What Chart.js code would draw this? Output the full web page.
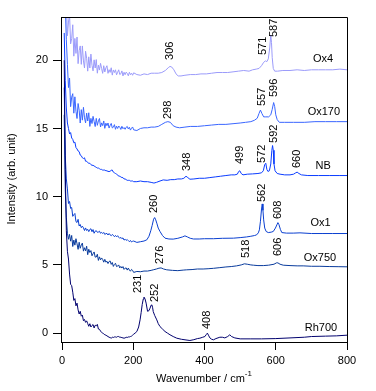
<!DOCTYPE html>
<html>
<head>
<meta charset="utf-8">
<script src="https://cdn.jsdelivr.net/npm/chart.js@4.4.1/dist/chart.umd.min.js"></script>
<style>
  html, body { margin: 0; padding: 0; background: #fff; }
  canvas { display: block; }
</style>
</head>
<body>
<canvas id="chart" width="376" height="391"></canvas>
<script>
// shared wavenumber grid for the noisy low-frequency part of every spectrum
const lowWn = [6, 9, 12, 15, 18, 21, 24, 27, 30, 33, 36, 39, 42, 45, 48, 51, 54, 57, 60, 63,
  66, 69, 72, 75, 78, 81, 84, 87, 90, 93, 96, 99, 102, 105, 108, 111, 114, 117, 120, 123,
  126, 129, 132, 135, 138, 141, 144, 147, 150, 153, 156, 159, 162, 165, 168, 171, 174, 177, 180, 183,
  186, 189, 192, 195, 198, 201];
const xTicks = [0, 200, 400, 600, 800];

// Ox4
const ox4Low = [27, 25, 24.5, 21.8, 22.8, 23.4, 21.2, 21.6, 22.6, 20.3, 21.6, 20.5, 21.7, 19.75, 20.7, 21.05, 19.7, 21.05, 19.95, 19.43,
  20.66, 20.15, 19.2, 20.25, 19.43, 20.45, 19.63, 19.22, 20.03, 19.43, 20.05, 19.05, 19.64, 19.28, 19.77, 19.4, 19.04, 19.6, 19.14, 19.44,
  19.6, 19.04, 19.31, 19.11, 19.45, 18.91, 19.29, 19.1, 19.3, 18.93, 19.12, 19.3, 18.95, 19.01, 19.22, 18.85, 19.12, 18.94, 19.13, 19.04,
  18.86, 19.12, 18.94, 19.05, 18.9, 19.08];
const ox4Wn = [210, 220, 230, 240, 250, 260, 270, 280, 290, 298, 303, 308, 314, 320, 326, 334, 345, 360, 375, 390,
  405, 420, 435, 450, 465, 480, 495, 510, 525, 535, 545, 553, 560, 566, 571, 575, 579, 583, 586, 588,
  590, 593, 597, 605, 620, 640, 660, 680, 700, 720, 740, 760, 780, 800];
const ox4Int = [18.95, 18.9, 19.0, 18.95, 19.05, 19.05, 19.05, 19.1, 19.25, 19.45, 19.55, 19.5, 19.3, 19.0, 18.85, 18.85, 18.9, 18.95, 18.95, 19.0,
  19.0, 19.05, 19.1, 19.1, 19.1, 19.15, 19.2, 19.25, 19.2, 19.3, 19.35, 19.4, 19.6, 19.85, 19.95, 19.9, 20.1, 20.9, 21.85, 21.3,
  20.2, 19.4, 19.2, 19.2, 19.25, 19.25, 19.3, 19.25, 19.3, 19.3, 19.3, 19.3, 19.35, 19.3];

// Ox170
const ox170Low = [26, 24, 21.5, 19.7, 18.0, 18.7, 16.6, 17.3, 17.55, 16.12, 17.32, 16.26, 15.73, 16.83, 16.34, 15.4, 16.38, 15.61, 16.55, 15.78,
  15.41, 16.13, 15.55, 16.15, 15.15, 15.74, 15.36, 15.89, 15.52, 15.14, 15.74, 15.23, 15.56, 15.73, 15.11, 15.41, 15.21, 15.55, 15.01, 15.39,
  15.2, 15.4, 15.03, 15.22, 15.37, 15.04, 15.09, 15.28, 14.94, 15.17, 15.0, 15.18, 15.09, 14.93, 15.16, 14.98, 15.07, 14.94, 15.09, 15.15,
  14.96, 15.09, 14.88, 15.02, 15.11, 14.9];
const ox170Wn = [210, 220, 230, 240, 250, 260, 270, 280, 290, 297, 304, 312, 320, 330, 345, 360, 380, 400, 420, 440,
  460, 480, 500, 515, 530, 540, 548, 553, 557, 561, 566, 572, 580, 586, 590, 594, 597, 600, 604, 610,
  625, 650, 680, 710, 740, 770, 800];
const ox170Int = [14.85, 15.0, 15.05, 15.05, 15.1, 15.1, 15.15, 15.3, 15.45, 15.5, 15.45, 15.2, 15.1, 15.05, 15.1, 15.15, 15.15, 15.2, 15.25, 15.3,
  15.3, 15.35, 15.4, 15.45, 15.5, 15.6, 15.75, 16.1, 16.35, 16.1, 15.85, 15.85, 15.85, 16.0, 16.4, 16.9, 16.6, 16.0, 15.65, 15.45,
  15.45, 15.45, 15.45, 15.5, 15.5, 15.5, 15.5];

// NB
const nbLow = [22, 18.5, 16.5, 15.4, 15.0, 14.6, 14.7, 14.3, 14.2, 13.95, 14.0, 13.6, 13.5, 13.35, 13.3, 13.05, 13.0, 12.85, 12.8, 12.85,
  12.6, 12.6, 12.5, 12.45, 12.45, 12.35, 12.3, 12.3, 12.25, 12.2, 12.15, 12.1, 12.1, 12.05, 12.0, 12.0, 11.95, 11.95, 11.95, 11.9,
  11.9, 11.85, 11.85, 11.85, 11.95, 11.95, 11.8, 11.75, 11.7, 11.65, 11.6, 11.5, 11.5, 11.45, 11.4, 11.4, 11.3, 11.3, 11.25, 11.2,
  11.2, 11.2, 11.15, 11.15, 11.15, 11.1];
const nbWn = [210, 220, 230, 240, 250, 258, 265, 275, 284, 295, 305, 315, 325, 335, 342, 348, 353, 359, 370, 385,
  400, 415, 430, 445, 460, 475, 485, 492, 496, 499, 503, 508, 520, 535, 550, 560, 565, 569, 572, 575,
  578, 582, 586, 589, 591, 593, 595, 598, 604, 612, 625, 640, 650, 656, 660, 665, 672, 690, 720, 750,
  780, 800];
const nbInt = [11.1, 11.15, 11.1, 11.1, 11.05, 11.0, 11.05, 11.15, 11.23, 11.2, 11.25, 11.25, 11.3, 11.3, 11.35, 11.5, 11.4, 11.28, 11.3, 11.35,
  11.35, 11.4, 11.45, 11.5, 11.55, 11.6, 11.6, 11.65, 11.85, 11.9, 11.7, 11.6, 11.65, 11.67, 11.7, 11.75, 11.9, 12.35, 12.45, 12.0,
  11.85, 11.9, 12.4, 13.4, 13.75, 13.4, 12.4, 11.9, 11.7, 11.65, 11.6, 11.6, 11.65, 11.75, 11.8, 11.7, 11.6, 11.55, 11.55, 11.55,
  11.55, 11.55];

// Ox1
const ox1Low = [18, 13, 11.3, 10.57, 9.5, 9.65, 9.14, 9.21, 8.56, 8.68, 8.77, 8.17, 8.11, 8.34, 7.85, 7.96, 7.73, 7.84, 7.72, 7.52,
  7.71, 7.52, 7.61, 7.44, 7.6, 7.65, 7.43, 7.59, 7.32, 7.47, 7.51, 7.39, 7.41, 7.47, 7.32, 7.39, 7.3, 7.38, 7.23, 7.29,
  7.31, 7.19, 7.3, 7.2, 7.14, 7.23, 7.17, 7.07, 7.16, 7.06, 7.14, 7.03, 6.95, 7.02, 6.92, 6.98, 6.82, 6.88, 6.8, 6.86,
  6.78, 6.7, 6.79, 6.68, 6.73, 6.75];
const ox1Wn = [210, 220, 230, 238, 244, 249, 253, 257, 260, 263, 266, 270, 275, 282, 289, 300, 312, 325, 338, 345,
  352, 360, 369, 385, 400, 425, 450, 481, 500, 518, 530, 540, 546, 551, 554, 557, 560, 562, 564, 566,
  569, 573, 579, 587, 593, 599, 603, 606, 609, 613, 617, 630, 649, 668, 700, 730, 760, 800];
const ox1Int = [6.65, 6.7, 6.75, 6.84, 7.1, 7.5, 7.9, 8.35, 8.47, 8.3, 8.06, 7.7, 7.45, 7.15, 6.96, 6.9, 6.89, 6.95, 7.05, 7.13,
  7.05, 6.95, 6.9, 6.9, 6.92, 6.92, 6.95, 6.96, 7.0, 7.05, 7.1, 7.15, 7.2, 7.35, 7.57, 8.2, 9.1, 9.47, 9.0, 8.3,
  7.7, 7.45, 7.37, 7.4, 7.45, 7.7, 7.93, 8.1, 7.95, 7.6, 7.37, 7.33, 7.33, 7.35, 7.3, 7.3, 7.3, 7.3];

// Ox750
const ox750Low = [16, 10.5, 8.5, 7.32, 6.88, 7.24, 6.74, 7.16, 6.35, 6.82, 6.45, 6.92, 6.55, 6.14, 6.66, 6.22, 6.47, 6.6, 6.01, 6.26,
  6.03, 6.37, 5.75, 6.15, 5.91, 6.05, 5.67, 5.82, 5.95, 5.57, 5.58, 5.78, 5.33, 5.59, 5.37, 5.51, 5.4, 5.2, 5.41, 5.2,
  5.27, 5.1, 5.25, 5.29, 5.04, 5.18, 4.89, 5.04, 5.12, 4.88, 4.91, 5.0, 4.78, 4.89, 4.77, 4.88, 4.67, 4.76, 4.78, 4.62,
  4.77, 4.62, 4.54, 4.67, 4.6, 4.45];
const ox750Wn = [210, 220, 230, 240, 250, 256, 265, 272, 278, 285, 294, 310, 325, 340, 350, 365, 380, 396, 410, 425,
  443, 460, 475, 490, 503, 512, 520, 530, 537, 550, 565, 580, 595, 602, 606, 612, 621, 640, 660, 677,
  700, 724, 750, 775, 800];
const ox750Int = [4.52, 4.5, 4.55, 4.55, 4.6, 4.64, 4.7, 4.76, 4.78, 4.7, 4.64, 4.6, 4.58, 4.62, 4.64, 4.66, 4.7, 4.7, 4.72, 4.75,
  4.8, 4.85, 4.88, 4.93, 5.0, 5.08, 5.05, 5.0, 4.98, 4.95, 4.95, 4.98, 5.05, 5.15, 5.15, 5.05, 4.98, 4.95, 4.93, 4.93,
  4.9, 4.9, 4.88, 4.87, 4.86];

// Rh700
const rh700Low = [20, 12, 7.5, 6.0, 5.43, 4.33, 3.58, 3.48, 3.0, 2.4, 2.53, 2.0, 2.2, 1.7, 1.4, 1.6, 1.24, 1.32, 0.91, 1.0,
  0.79, 0.9, 0.7, 0.5, 0.69, 0.45, 0.56, 0.63, 0.38, 0.58, 0.54, 0.64, 0.3, 0.28, 0.15, 0.05, 0.0, -0.05, -0.12, -0.15,
  -0.2, -0.25, -0.3, -0.33, -0.37, -0.3, -0.32, -0.28, -0.28, -0.3, -0.25, -0.25, -0.3, -0.3, -0.33, -0.35, -0.37, -0.35, -0.3, -0.32,
  -0.28, -0.28, -0.25, -0.22, -0.15, -0.08];
const rh700Wn = [205, 210, 215, 219, 222, 225, 228, 230, 233, 236, 240, 244, 247, 250, 252, 254, 256, 260, 266, 270,
  275, 282, 289, 296, 303, 312, 322, 335, 348, 359, 370, 380, 387, 395, 401, 405, 408, 411, 415, 420,
  425, 432, 443, 450, 457, 465, 471, 476, 485, 500, 530, 560, 600, 640, 680, 700, 740, 770, 800];
const rh700Int = [0.0, 0.12, 0.45, 0.97, 1.5, 2.1, 2.5, 2.64, 2.5, 2.2, 1.6, 1.65, 1.83, 2.05, 2.07, 1.9, 1.58, 1.3, 0.97, 0.7,
  0.48, 0.3, 0.12, 0.0, -0.12, -0.25, -0.37, -0.45, -0.5, -0.54, -0.48, -0.4, -0.37, -0.3, -0.25, -0.1, 0.0, -0.15, -0.35, -0.45,
  -0.49, -0.4, -0.3, -0.3, -0.35, -0.25, -0.12, -0.25, -0.35, -0.42, -0.42, -0.42, -0.4, -0.35, -0.3, -0.25, -0.22, -0.2, -0.15];

// sample names and where they are written
const sampleNames = ["Ox4", "Ox170", "NB", "Ox1", "Ox750", "Rh700"];
const nameAt = [[733, 20.09], [735, 16.21], [733, 12.25], [726, 8.1], [724, 5.5], [727, 0.37]];

// peak labels: text, x (cm-1), y at the bottom of the rotated text
const peakNotes = [
  ["306", 302, 20.02], ["571", 563, 20.38], ["587", 594, 21.7],
  ["298", 297.5, 15.69], ["557", 561, 16.64], ["596", 595, 17.3],
  ["348", 349.5, 11.88], ["499", 500, 12.39], ["572", 561.5, 12.47], ["592", 595, 13.94], ["660", 660, 12.1],
  ["260", 258, 8.8], ["562", 561, 9.61], ["608", 606, 8.36],
  ["276", 275, 5.06], ["518", 517, 5.5], ["606", 606, 5.65],
  ["231", 213, 2.94], ["252", 260, 2.28], ["408", 407, 0.3],
];

const colors = ["#9b9bfa", "#3a66ff", "#0a3cff", "#0a3fd0", "#083a9c", "#00006e"];
const lows = [ox4Low, ox170Low, nbLow, ox1Low, ox750Low, rh700Low];
const highWn = [ox4Wn, ox170Wn, nbWn, ox1Wn, ox750Wn, rh700Wn];
const highInt = [ox4Int, ox170Int, nbInt, ox1Int, ox750Int, rh700Int];

const FONT = '"Liberation Sans", Arial, sans-serif';

const datasets = sampleNames.map((name, i) => {
  const wn = lowWn.concat(highWn[i]);
  const val = lows[i].concat(highInt[i]);
  return {
    label: name,
    data: wn.map((w, k) => ({ x: w, y: val[k] })),
    borderColor: colors[i],
    borderWidth: 1,
    pointRadius: 0,
    showLine: true,
    tension: 0,
    order: 5 - i,
  };
});

const annotate = {
  id: "annotate",
  afterDatasetsDraw(chart) {
    const { ctx, chartArea: a, scales } = chart;
    const x = scales.x, y = scales.y;
    ctx.save();
    // mirror frame on top and right
    ctx.strokeStyle = "#000";
    ctx.lineWidth = 1;
    ctx.beginPath();
    ctx.moveTo(a.left, a.top + 0.5);
    ctx.lineTo(a.right + 0.5, a.top + 0.5);
    ctx.lineTo(a.right + 0.5, a.bottom + 1);
    ctx.stroke();

    ctx.fillStyle = "#000";
    ctx.font = "11px " + FONT;
    ctx.textAlign = "center";
    ctx.textBaseline = "middle";
    sampleNames.forEach((n, i) => {
      ctx.fillText(n, x.getPixelForValue(nameAt[i][0]), y.getPixelForValue(nameAt[i][1]));
    });

    ctx.textAlign = "left";
    peakNotes.forEach(([t, px, py]) => {
      ctx.save();
      ctx.translate(x.getPixelForValue(px), y.getPixelForValue(py));
      ctx.rotate(-Math.PI / 2);
      ctx.fillText(t, 0, 0);
      ctx.restore();
    });

    // axis titles
    ctx.textAlign = "center";
    ctx.save();
    ctx.translate(12, 179);
    ctx.rotate(-Math.PI / 2);
    ctx.fillText("Intensity (arb. unit)", 0, 0);
    ctx.restore();

    const main = "Wavenumber / cm";
    const sup = "-1";
    ctx.font = "11px " + FONT;
    const w1 = ctx.measureText(main).width;
    ctx.font = "8px " + FONT;
    const w2 = ctx.measureText(sup).width;
    const x0 = (a.left + a.right) / 2 - (w1 + w2) / 2;
    ctx.textAlign = "left";
    ctx.textBaseline = "alphabetic";
    ctx.font = "11px " + FONT;
    ctx.fillText(main, x0, 382);
    ctx.font = "8px " + FONT;
    ctx.fillText(sup, x0 + w1, 376);
    ctx.restore();
  },
};

new Chart(document.getElementById("chart"), {
  type: "scatter",
  data: { datasets: datasets },
  options: {
    responsive: false,
    devicePixelRatio: 1,
    animation: false,
    layout: { padding: { top: 17, right: 29, left: 0, bottom: 0 } },
    plugins: {
      legend: { display: false },
      tooltip: { enabled: false },
    },
    scales: {
      x: {
        type: "linear",
        min: -3,
        max: 800,
        afterBuildTicks: (s) => { s.ticks = xTicks.map((v) => ({ value: v })); },
        ticks: {
          maxRotation: 0,
          color: "#000",
          padding: 4,
          font: { family: FONT, size: 11 },
        },
        grid: { drawOnChartArea: false, tickLength: 8, tickColor: "#000", color: "#000" },
        border: { color: "#000", width: 1 },
        afterFit: (s) => { s.height = 49; },
      },
      y: {
        min: -0.65,
        max: 23.17,
        ticks: {
          stepSize: 5,
          includeBounds: false,
          color: "#000",
          padding: 5,
          font: { family: FONT, size: 11 },
        },
        grid: { drawOnChartArea: false, tickLength: 8, tickColor: "#000", color: "#000" },
        border: { color: "#000", width: 1 },
        afterFit: (s) => { s.width = 61; },
      },
    },
  },
  plugins: [annotate],
});
</script>
</body>
</html>
